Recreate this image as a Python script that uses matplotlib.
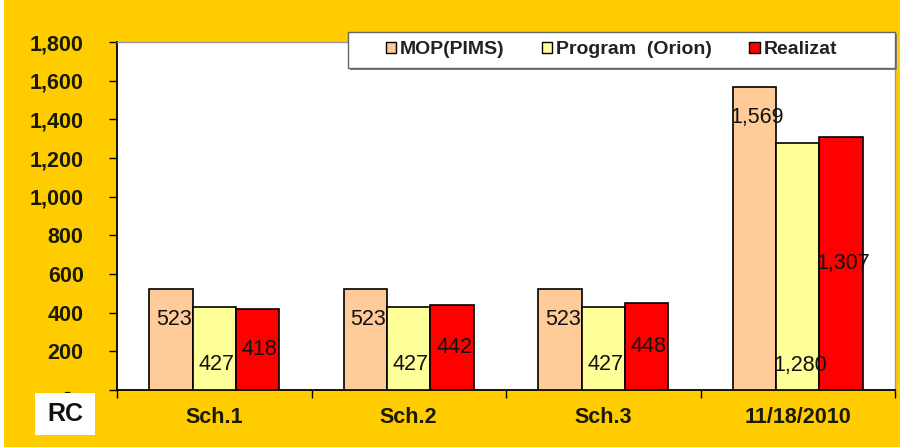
import matplotlib
matplotlib.use('Agg')
import matplotlib.pyplot as plt
import numpy as np
from matplotlib.patches import Rectangle

plt.rcParams['font.family'] = ['Liberation Sans', 'DejaVu Sans']

categories = ['Sch.1', 'Sch.2', 'Sch.3', '11/18/2010']
mop = [523, 523, 523, 1569]
program = [427, 427, 427, 1280]
realizat = [418, 442, 448, 1307]
series_names = ['MOP(PIMS)', 'Program  (Orion)', 'Realizat']
y_ticks = [0, 200, 400, 600, 800, 1000, 1200, 1400, 1600, 1800]
y_tick_labels = ['-  ', '200', '400', '600', '800', '1,000', '1,200', '1,400', '1,600', '1,800']
corner_label = 'RC'

colors = ['#FFCC99', '#FFFF99', '#FF0000']

W, H = 900, 447
fig = plt.figure(figsize=(W / 100, H / 100), dpi=100)
fig.patch.set_facecolor('#FFCC00')

# thin white strip on the left edge
fig.patches.append(Rectangle((0, 0), 4 / W, 1, transform=fig.transFigure,
                             facecolor='white', edgecolor='none', zorder=0))

ax = fig.add_axes([117 / W, 1 - 390 / H, (895 - 117) / W, (390 - 42) / H])
ax.set_facecolor('white')

x = np.arange(len(categories))
w = 0.2226
series = [mop, program, realizat]
for i, (vals, c) in enumerate(zip(series, colors)):
    ax.bar(x + (i - 1) * w, vals, w, color=c, edgecolor='black',
           linewidth=1.2, zorder=3)

ax.set_xlim(-0.5, len(categories) - 0.5)
ax.set_ylim(0, 1800)

# data labels
lab_font = dict(fontsize=15.5, color='#111111', ha='center', va='center', zorder=5)
for xi, v in zip(x, mop):
    ax.annotate(f'{v:,}', xy=(xi - w, v), xytext=(2, -22),
                textcoords='offset points', **lab_font)
for xi, v in zip(x, program):
    ax.annotate(f'{v:,}', xy=(xi, 0), xytext=(1.5, 18),
                textcoords='offset points', **lab_font)
for xi, v in zip(x, realizat):
    ax.annotate(f'{v:,}', xy=(xi + w, v / 2), xytext=(1.5, 0),
                textcoords='offset points', **lab_font)

# axes styling
ax.set_yticks(y_ticks)
ax.set_yticklabels(y_tick_labels)
ax.set_xticks(x)
ax.set_xticklabels(categories)
ax.set_xticks(np.arange(len(categories) + 1) - 0.5, minor=True)
ax.tick_params(axis='x', which='major', length=0, pad=12, labelsize=15.5)
ax.tick_params(axis='x', which='minor', length=6, width=1.0, direction='out')
ax.tick_params(axis='y', which='major', length=6, width=1.0, direction='out',
               pad=18, labelsize=15.5)
for lbl in ax.get_xticklabels() + ax.get_yticklabels():
    lbl.set_fontweight('bold')
    lbl.set_color('#1a1a00')

for s in ['left', 'bottom']:
    ax.spines[s].set_color('black')
    ax.spines[s].set_linewidth(1.3)
for s in ['top', 'right']:
    ax.spines[s].set_color('#9a9a9a')
    ax.spines[s].set_linewidth(1.0)

# legend frame with shadow
lx0, lx1, ly0, ly1 = 348, 895, 32, 68
fig.patches.append(Rectangle((lx0 / W + 2 / W, 1 - (ly1 + 2) / H), (lx1 - lx0) / W,
                             (ly1 - ly0) / H, transform=fig.transFigure,
                             facecolor='#808080', edgecolor='none', zorder=4))
fig.patches.append(Rectangle((lx0 / W, 1 - ly1 / H), (lx1 - lx0) / W,
                             (ly1 - ly0) / H, transform=fig.transFigure,
                             facecolor='white', edgecolor='#666666', linewidth=1.0,
                             zorder=5))
handles = [Rectangle((0, 0), 1, 1, facecolor=c, edgecolor='black', linewidth=1.0)
           for c in colors]
leg = fig.legend(handles, series_names, loc='center left',
                 bbox_to_anchor=(368 / W, 1 - 50 / H), ncol=3, frameon=False,
                 handlelength=0.55, handleheight=0.55, handletextpad=0.2,
                 columnspacing=1.9, prop=dict(weight='bold', size=14))
leg.set_zorder(6)
for t in leg.get_texts():
    t.set_color('#222222')

# corner label box
fig.patches.append(Rectangle((35 / W, 1 - 435 / H), 60 / W, 42 / H,
                             transform=fig.transFigure, facecolor='white',
                             edgecolor='none', zorder=4))
fig.text(65 / W, 1 - 414 / H, corner_label, ha='center', va='center',
         fontsize=18, fontweight='bold', color='#111111', zorder=6)

fig.savefig('out.png', dpi=100, facecolor=fig.get_facecolor())
